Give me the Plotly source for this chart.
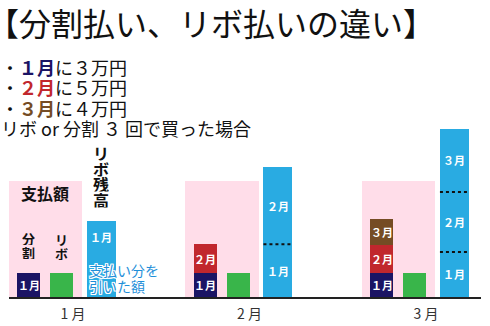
import numpy as np
import plotly.graph_objects as go

# ---- data -------------------------------------------------------------
months = ["1 月", "2 月", "3 月"]
seg_labels = ["１月", "２月", "３月"]

# heights in chart units (1 unit = one 分割 instalment)
shiharai_waku = [4.83, 4.83, 4.83]      # pink "支払額" panel
bunkatsu_1 = [1.0, 1.0, 0.98]           # 分割: instalment of the 1月 purchase
bunkatsu_2 = [None, 1.2, 1.18]          # 分割: instalment of the 2月 purchase
bunkatsu_3 = [None, None, 1.1]          # 分割: instalment of the 3月 purchase
ribo_pay = [1.0, 1.0, 1.0]              # リボ: fixed monthly payment
ribo_zan_1 = [3.17, 2.2, 1.88]          # リボ残高: part from the 1月 purchase
ribo_zan_2 = [None, 3.2, 2.5]           # リボ残高: part from the 2月 purchase
ribo_zan_3 = [None, None, 2.63]         # リボ残高: part from the 3月 purchase

# ---- styling ----------------------------------------------------------
FONT = "Noto Sans CJK JP"
PINK = "#FFDDE9"
NAVY = "#1B1464"
RED = "#C1272D"
BROWN = "#754C24"
GREEN = "#39B54A"
BLUE = "#29ABE2"
NOTE_BLUE = "#1F8FD9"

# bar offsets / widths relative to each month tick (x units)
OFF_PINK, W_PINK = -0.156, 0.414
OFF_BUN, W_BUN = -0.252, 0.130
OFF_RIBO, W_RIBO = -0.065, 0.130
OFF_ZAN, W_ZAN = 0.161, 0.164

W, H = 490, 326
M_L, M_R, M_T, M_B = 9, 9, 100, 29
PLOT_H = H - M_T - M_B
PX_PER_UNIT = 24.0
Y_MAX = PLOT_H / PX_PER_UNIT
X_RANGE = [-0.3626, 2.3116]

idx = np.arange(len(months))


def paper_x(px):
    return (px - M_L) / (W - M_L - M_R)


def paper_y(py):
    return (H - M_B - py) / PLOT_H


def units(px):
    return px / PX_PER_UNIT


fig = go.Figure()
annotations = []
shapes = []

# pink "支払額" panel behind the payment bars
fig.add_trace(go.Bar(x=idx + OFF_PINK, y=shiharai_waku, width=W_PINK,
                     marker=dict(color=PINK, line=dict(width=0)),
                     hoverinfo="skip"))


def add_stack(series, colors, offset, width, label_top_shift=None, dashed=False):
    base = np.zeros(len(months))
    for k, (vals, col) in enumerate(zip(series, colors)):
        v = np.array([np.nan if a is None else a for a in vals], dtype=float)
        present = ~np.isnan(v)
        fig.add_trace(go.Bar(
            x=(idx + offset)[present], y=v[present], base=base[present],
            width=width, marker=dict(color=col, line=dict(width=0)),
            hoverinfo="skip"))
        for i in np.where(present)[0]:
            top = base[i] + v[i]
            ymid = base[i] + v[i] / 2
            if label_top_shift is not None and i == 0:
                ymid = top - label_top_shift
            annotations.append(dict(
                x=i + offset, y=ymid, xref="x", yref="y", text=seg_labels[k],
                showarrow=False, yanchor="middle",
                font=dict(family=FONT, size=11, color="white", weight="bold")))
            if dashed and k > 0:
                shapes.append(dict(
                    type="line", xref="x", yref="y",
                    x0=i + offset - width / 2, x1=i + offset + width / 2,
                    y0=base[i], y1=base[i],
                    line=dict(color="#111", width=2, dash="3px,3px")))
        base = base + np.nan_to_num(v)
    return base


add_stack([bunkatsu_1, bunkatsu_2, bunkatsu_3], [NAVY, RED, BROWN], OFF_BUN, W_BUN)

fig.add_trace(go.Bar(x=idx + OFF_RIBO, y=ribo_pay, width=W_RIBO,
                     marker=dict(color=GREEN, line=dict(width=0)),
                     hoverinfo="skip"))

zan_top = add_stack([ribo_zan_1, ribo_zan_2, ribo_zan_3], [BLUE, BLUE, BLUE],
                    OFF_ZAN, W_ZAN, label_top_shift=units(16), dashed=True)

# ---- in-chart captions ------------------------------------------------
annotations.append(dict(x=0 + OFF_PINK, y=shiharai_waku[0] - units(12),
                        xref="x", yref="y", text="支払額", showarrow=False,
                        yanchor="middle",
                        font=dict(family=FONT, size=16, color="#111", weight="bold")))


def vertical_text(chars, x, y_top, pitch_px, size):
    for j, ch in enumerate(chars):
        annotations.append(dict(x=x, y=y_top - units(pitch_px) * j,
                                xref="x", yref="y", text=ch, showarrow=False,
                                yanchor="middle", height=pitch_px,
                                font=dict(family=FONT, size=size, color="#111",
                                          weight="bold")))


vertical_text("分割", 0 + OFF_BUN, units(59), 14, 13)
vertical_text("リボ", 0 + OFF_RIBO, units(58), 14, 13)
vertical_text("リボ残高", 0 + OFF_ZAN, zan_top[0] + units(68), 15.6, 16)

outline = ("1px 1px 0 white, -1px -1px 0 white, 1px -1px 0 white, "
           "-1px 1px 0 white, 0 1px 0 white, 0 -1px 0 white, 1px 0 0 white, -1px 0 0 white")
for j, line in enumerate(["支払い分を", "引いた額"]):
    annotations.append(dict(x=0 + OFF_ZAN - W_ZAN / 2, y=units(27) - units(16) * j,
                            xref="x", yref="y", xanchor="left", yanchor="middle",
                            text=line, showarrow=False,
                            font=dict(family=FONT, size=14, color=NOTE_BLUE,
                                      shadow=outline)))

# ---- heading block ----------------------------------------------------
annotations.append(dict(x=paper_x(-15), y=paper_y(22), xref="paper", yref="paper",
                        xanchor="left", yanchor="middle",
                        text="【分割払い、リボ払いの違い】",
                        showarrow=False, font=dict(family=FONT, size=32, color="#111")))

heading_lines = [
    f"・<b><span style='color:{NAVY}'>１月</span></b>に３万円",
    f"・<b><span style='color:{RED}'>２月</span></b>に５万円",
    f"・<b><span style='color:{BROWN}'>３月</span></b>に４万円",
    "リボ or 分割 ３ 回で買った場合",
]
for line, py in zip(heading_lines, [67, 87, 108, 128]):
    annotations.append(dict(x=paper_x(-1), y=paper_y(py), xref="paper", yref="paper",
                            xanchor="left", yanchor="middle", text=line,
                            showarrow=False,
                            font=dict(family=FONT, size=18, color="#111")))

fig.update_layout(
    width=W, height=H,
    margin=dict(l=M_L, r=M_R, t=M_T, b=M_B, autoexpand=False),
    paper_bgcolor="white", plot_bgcolor="white",
    barmode="overlay", showlegend=False, bargap=0,
    xaxis=dict(range=X_RANGE, tickvals=idx, ticktext=months, showgrid=False,
               zeroline=False, showline=True, linecolor="#222", linewidth=1.5,
               ticks="", ticklabelstandoff=3, automargin=False,
               tickfont=dict(family=FONT, size=14, color="#333"),
               fixedrange=True),
    yaxis=dict(range=[0, Y_MAX], visible=False, fixedrange=True, automargin=False),
    annotations=annotations,
    shapes=shapes,
)

fig.write_html("out.html")
